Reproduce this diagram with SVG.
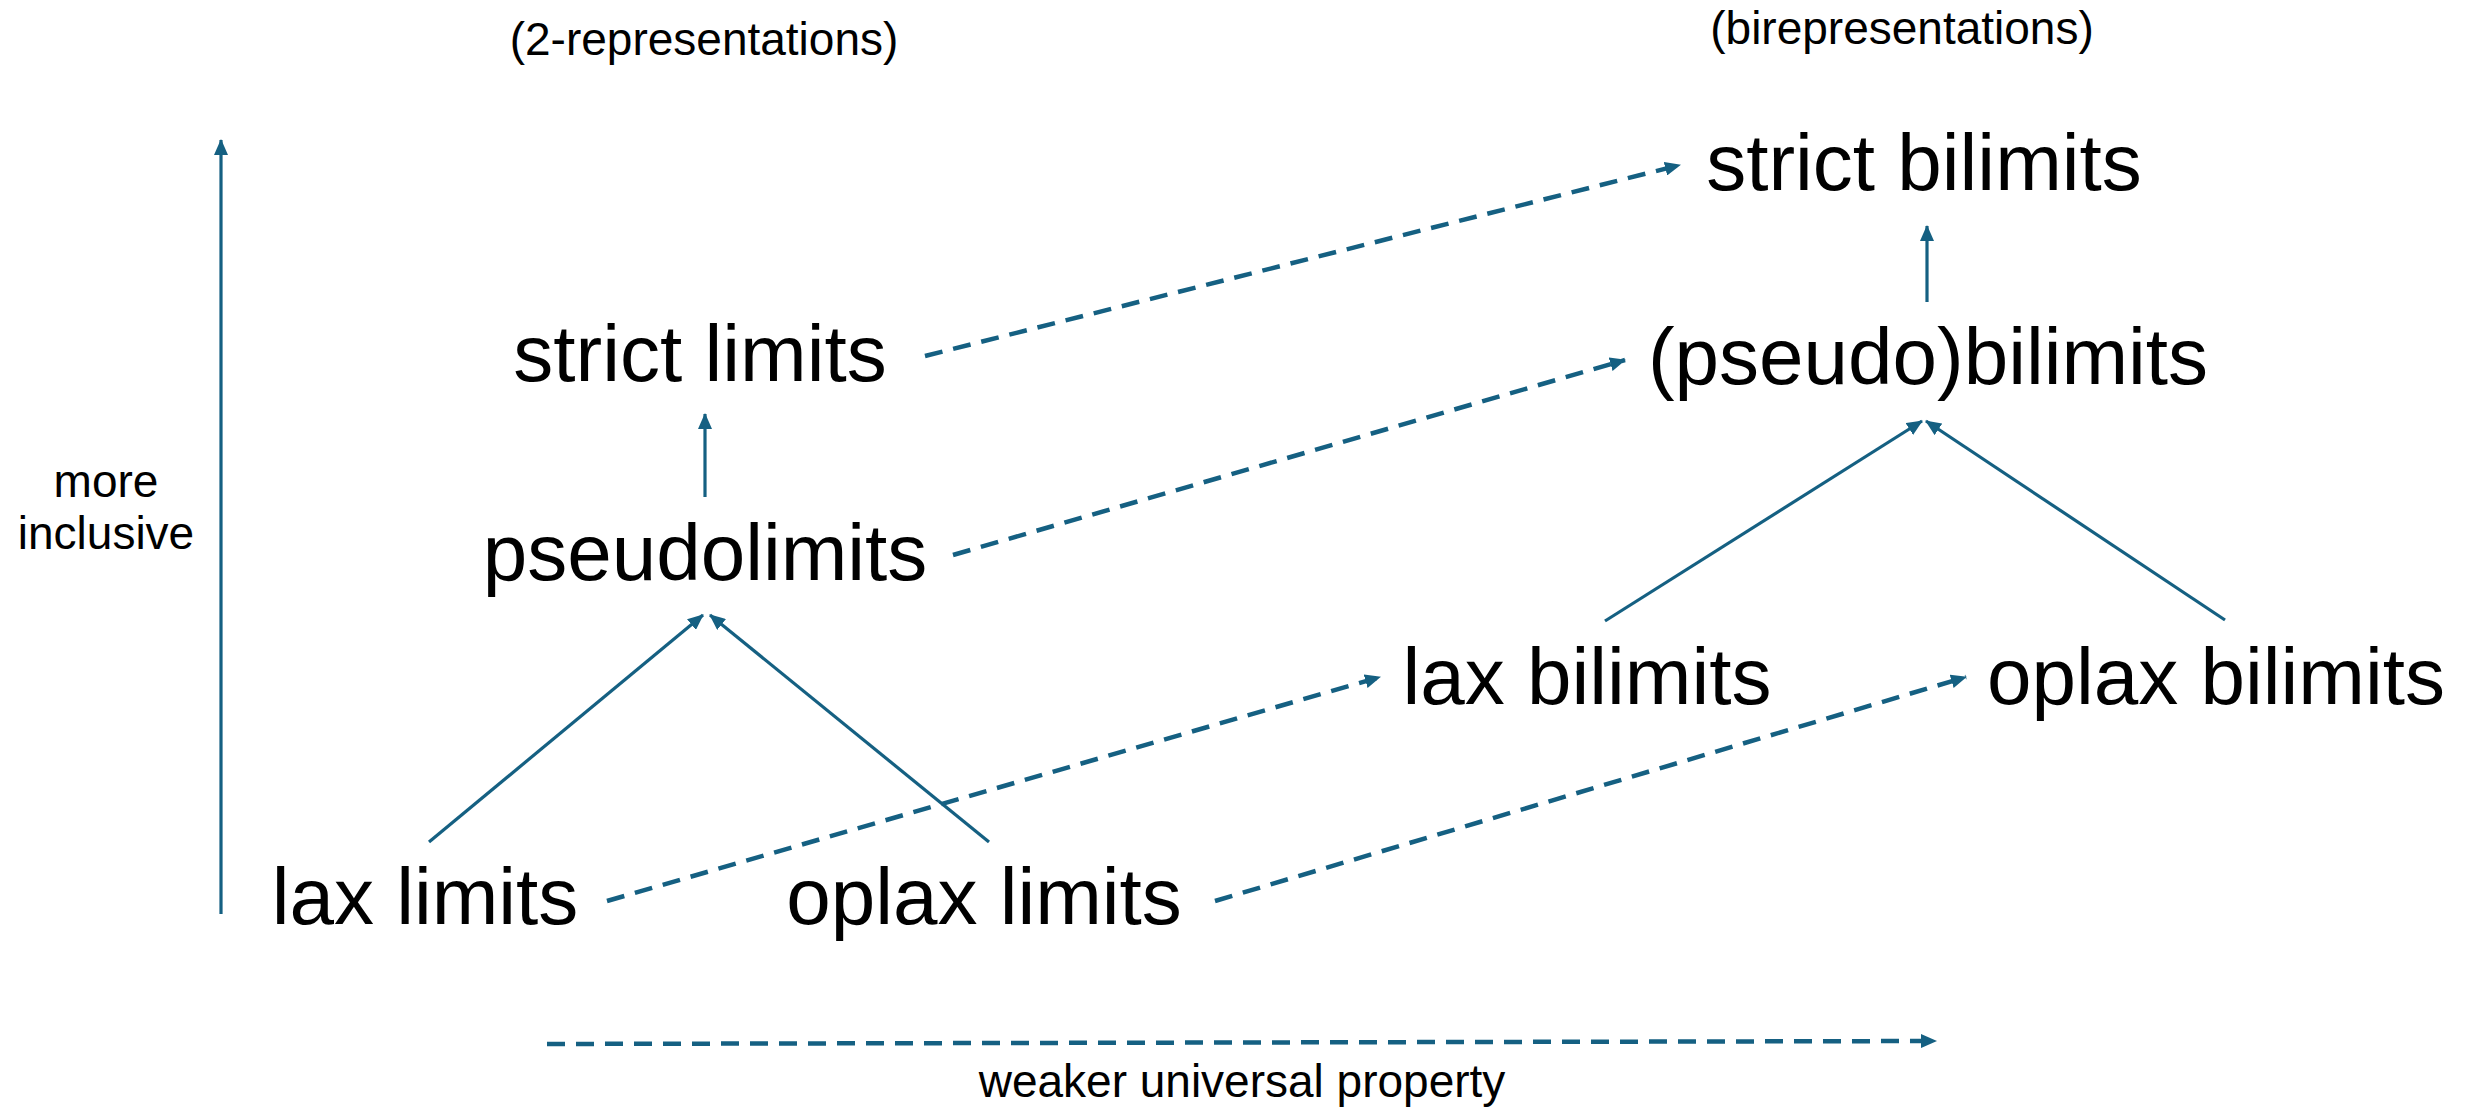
<svg xmlns="http://www.w3.org/2000/svg" width="2471" height="1110" viewBox="0 0 2471 1110">
<style>
.big{font-family:"Liberation Sans",Arial,sans-serif;font-size:80px;fill:#000;text-anchor:middle}
.small{font-family:"Liberation Sans",Arial,sans-serif;font-size:46px;fill:#000;text-anchor:middle}
.solid{stroke:#156082;stroke-width:3.2;fill:none;marker-end:url(#ah)}
.dash{stroke:#156082;stroke-width:4.5;fill:none;stroke-dasharray:18 11;marker-end:url(#ah)}
</style>
<defs>
<marker id="ah" markerUnits="userSpaceOnUse" markerWidth="16" markerHeight="14" refX="15" refY="7" orient="auto">
<path d="M0,0 L16,7 L0,14 Z" fill="#156082"/>
</marker>
</defs>
<rect width="2471" height="1110" fill="#fff"/>
<g id="connectors">
<line class="solid" x1="221" y1="914" x2="221" y2="140"/>
<line class="solid" x1="705" y1="497" x2="705" y2="414"/>
<line class="solid" x1="1927" y1="302" x2="1927" y2="226"/>
<line class="solid" x1="1605" y1="621" x2="1922" y2="421"/>
<line class="solid" x1="2225" y1="620" x2="1926" y2="421"/>
<line class="solid" x1="429" y1="842" x2="703" y2="615"/>
<line class="solid" x1="989" y1="842" x2="710" y2="615"/>
<line class="dash" x1="925" y1="356" x2="1680" y2="165"/>
<line class="dash" x1="953" y1="555" x2="1625" y2="360"/>
<line class="dash" x1="607" y1="901" x2="1380" y2="677"/>
<line class="dash" x1="1215" y1="901" x2="1966" y2="677"/>
<line class="dash" x1="547" y1="1044" x2="1936" y2="1041"/>
</g>
<g id="label-2rep"><text class="small" x="704" y="55">(2-representations)</text></g>
<g id="label-birep"><text class="small" x="1902" y="44">(birepresentations)</text></g>
<g id="node-strict-bilimits"><text class="big" x="1924" y="190">strict bilimits</text></g>
<g id="node-strict-limits"><text class="big" x="700" y="381">strict limits</text></g>
<g id="node-pseudobilimits"><text class="big" x="1928" y="384">(pseudo)bilimits</text></g>
<g id="node-pseudolimits"><text class="big" x="705" y="580">pseudolimits</text></g>
<g id="node-lax-bilimits"><text class="big" x="1587" y="704">lax bilimits</text></g>
<g id="node-oplax-bilimits"><text class="big" x="2216" y="704">oplax bilimits</text></g>
<g id="node-lax-limits"><text class="big" x="425" y="924">lax limits</text></g>
<g id="node-oplax-limits"><text class="big" x="984" y="924">oplax limits</text></g>
<g id="label-inclusive"><text class="small" x="106" y="497">more</text><text class="small" x="106" y="549">inclusive</text></g>
<g id="label-weaker"><text class="small" x="1242" y="1097">weaker universal property</text></g>
</svg>
